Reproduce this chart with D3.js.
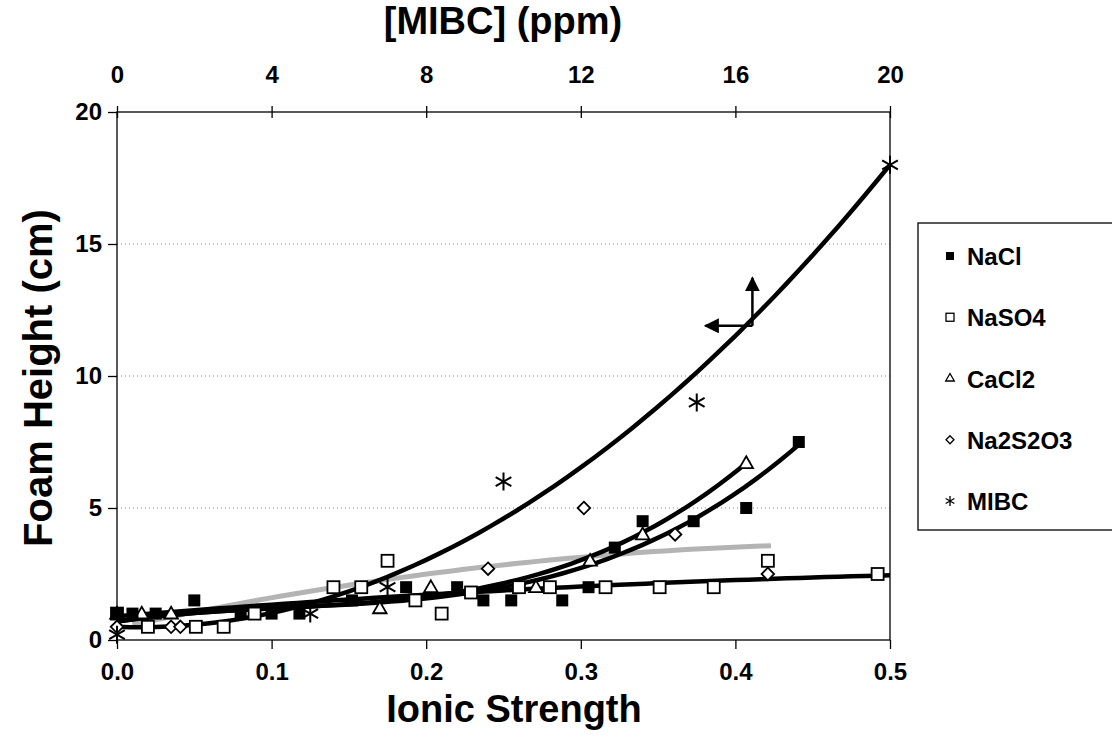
<!DOCTYPE html>
<html lang="en">
<head>
    <title>Foam Height vs Ionic Strength</title>
    <style>
        body { margin: 0; background: #fff; }
        svg text { font-family: "Liberation Sans", Arial, sans-serif; font-weight: bold; fill: #000; }
        .axis path, .axis line { stroke: #000; stroke-width: 1.3; }
        .grid line { stroke: #888; stroke-width: 1; stroke-dasharray: 1,3; }
    </style>
    <script src="https://d3js.org/d3.v7.min.js"></script>
</head>
<body>
<svg></svg>
<script>
    const width = 1112;
    const height = 753;

    // ionic strength values and foam heights (cm)
    const naclX = [0.0, 0.01, 0.025, 0.05, 0.08, 0.1, 0.118, 0.152, 0.187, 0.22, 0.237, 0.255, 0.288, 0.305, 0.322, 0.34, 0.373, 0.407, 0.441];
    const naclY = [1.0, 1.0, 1.0, 1.5, 1.0, 1.0, 1.0, 1.5, 2.0, 2.0, 1.5, 1.5, 1.5, 2.0, 3.5, 4.5, 4.5, 5.0, 7.5];

    const naso4X = [0.0, 0.02, 0.051, 0.069, 0.089, 0.14, 0.158, 0.175, 0.193, 0.21, 0.229, 0.26, 0.28, 0.316, 0.351, 0.386, 0.421, 0.492];
    const naso4Y = [1.0, 0.5, 0.5, 0.5, 1.0, 2.0, 2.0, 3.0, 1.5, 1.0, 1.8, 2.0, 2.0, 2.0, 2.0, 2.0, 3.0, 2.5];

    const cacl2X = [0.0, 0.016, 0.035, 0.17, 0.203, 0.271, 0.306, 0.34, 0.407];
    const cacl2Y = [1.0, 1.0, 1.0, 1.2, 2.0, 2.0, 3.0, 4.0, 6.7];

    const na2s2o3X = [0.0, 0.035, 0.041, 0.24, 0.302, 0.361, 0.421];
    const na2s2o3Y = [0.5, 0.5, 0.5, 2.7, 5.0, 4.0, 2.5];

    // MIBC is plotted against the top axis (ppm)
    const mibcPpm = [0, 5, 7, 10, 15, 20];
    const mibcY = [0.2, 1.0, 2.0, 6.0, 9.0, 18.0];

    // trendline polynomial coefficients (c0 + c1 x + c2 x^2 + c3 x^3) and x range
    const naclTrend = [0.7, 8.6, -50.96, 149.4];
    const naso4Trend = [0.9, 4.717, -3.235, 0];
    const cacl2Trend = [0.7, 8.67, -53.5, 168.1];
    const na2s2o3Trend = [0.45, 12.77, -12.74, 0];
    const mibcTrend = [0.5, -0.055, 0.0465, 0];
    const naclRange = [0, 0.443];
    const naso4Range = [0, 0.5];
    const cacl2Range = [0, 0.409];
    const na2s2o3Range = [0.01, 0.423];
    const mibcRange = [0, 20];

    const seriesNames = ['NaCl', 'NaSO4', 'CaCl2', 'Na2S2O3', 'MIBC'];

    const xTicks = [0, 0.1, 0.2, 0.3, 0.4, 0.5];
    const ppmTicks = [0, 4, 8, 12, 16, 20];
    const yTicks = [0, 5, 10, 15, 20];

    const svg = d3.select('svg').attr('width', width).attr('height', height);

    const plotLeft = 117, plotRight = 890, plotTop = 112, plotBottom = 640;

    const x = d3.scaleLinear().domain([0, 0.5]).range([plotLeft, plotRight]);
    const xTop = d3.scaleLinear().domain([0, 20]).range([plotLeft, plotRight]);
    const y = d3.scaleLinear().domain([0, 20]).range([plotBottom, plotTop]);

    // gridlines
    svg.append('g').attr('class', 'grid')
        .selectAll('line')
        .data(yTicks.filter(d => d > 0 && d < 20))
        .enter().append('line')
        .attr('x1', plotLeft).attr('x2', plotRight)
        .attr('y1', d => y(d)).attr('y2', d => y(d));

    const fmt1 = d3.format('.1f');

    const xAxis = svg.append('g').attr('class', 'axis')
        .attr('transform', `translate(0,${plotBottom})`)
        .call(d3.axisBottom(x).tickValues(xTicks).tickFormat(fmt1).tickSize(9).tickPadding(14));
    xAxis.selectAll('text').style('font-size', '24px');

    const topAxis = svg.append('g').attr('class', 'axis')
        .attr('transform', `translate(0,${plotTop})`)
        .call(d3.axisTop(xTop).tickValues(ppmTicks).tickSize(6).tickPadding(23));
    topAxis.selectAll('.tick line').attr('y2', 6).attr('y1', -6);
    topAxis.selectAll('text').style('font-size', '24px');

    const yAxis = svg.append('g').attr('class', 'axis')
        .attr('transform', `translate(${plotLeft},0)`)
        .call(d3.axisLeft(y).tickValues(yTicks).tickSize(9).tickPadding(6));
    yAxis.selectAll('text').style('font-size', '24px');
    svg.selectAll('.axis .domain').remove();
    svg.append('rect').attr('x', plotLeft).attr('y', plotTop)
        .attr('width', plotRight - plotLeft).attr('height', plotBottom - plotTop)
        .attr('fill', 'none').attr('stroke', '#000').attr('stroke-width', 1.3);

    // titles
    svg.append('text').attr('x', 503).attr('y', 34).attr('text-anchor', 'middle')
        .style('font-size', '38px').text('[MIBC] (ppm)');
    svg.append('text').attr('x', 514).attr('y', 722).attr('text-anchor', 'middle')
        .style('font-size', '38px').text('Ionic Strength');
    svg.append('text').attr('transform', 'translate(52,378) rotate(-90)').attr('text-anchor', 'middle')
        .style('font-size', '40px').text('Foam Height (cm)');

    // trendlines
    function poly(c, v) { return c[0] + c[1] * v + c[2] * v * v + c[3] * v * v * v; }
    function trendPoints(c, r, n) {
        return d3.range(n + 1).map(i => {
            const v = r[0] + (r[1] - r[0]) * i / n;
            return [v, poly(c, v)];
        });
    }
    const line = d3.line().x(d => x(d[0])).y(d => y(d[1]));
    const lineTop = d3.line().x(d => xTop(d[0])).y(d => y(d[1]));

    const trendGroup = svg.append('g');
    trendGroup.append('path').datum(trendPoints(na2s2o3Trend, na2s2o3Range, 60))
        .attr('d', line).attr('fill', 'none').attr('stroke', '#b4b4b4').attr('stroke-width', 5);

    // markers
    const markerGroup = svg.append('g');

    function drawSquares(xs, ys, filled) {
        markerGroup.selectAll(null).data(d3.zip(xs, ys)).enter().append('rect')
            .attr('x', d => x(d[0]) - 6).attr('y', d => y(d[1]) - 6)
            .attr('width', 12).attr('height', 12)
            .attr('fill', filled ? '#000' : '#fff')
            .attr('stroke', '#000').attr('stroke-width', filled ? 0 : 1.8);
    }
    const tri = d3.symbol().type(d3.symbolTriangle).size(80);
    const dia = d3.symbol().type(d3.symbolDiamond2).size(100);

    drawSquares(naso4X, naso4Y, false);
    markerGroup.selectAll(null).data(d3.zip(cacl2X, cacl2Y)).enter().append('path')
        .attr('d', tri).attr('transform', d => `translate(${x(d[0])},${y(d[1]) + 1})`)
        .attr('fill', '#fff').attr('stroke', '#000').attr('stroke-width', 1.8);
    markerGroup.selectAll(null).data(d3.zip(na2s2o3X, na2s2o3Y)).enter().append('path')
        .attr('d', dia).attr('transform', d => `translate(${x(d[0])},${y(d[1])})`)
        .attr('fill', '#fff').attr('stroke', '#000').attr('stroke-width', 1.8);
    drawSquares(naclX, naclY, true);

    function asterisk(s) {
        const a = s * 0.87, b = s * 0.5;
        return `M0,${-s}V${s}M${-a},${-b}L${a},${b}M${-a},${b}L${a},${-b}`;
    }
    markerGroup.selectAll(null).data(d3.zip(mibcPpm, mibcY)).enter().append('path')
        .attr('d', asterisk(9)).attr('transform', d => `translate(${xTop(d[0])},${y(d[1])})`)
        .attr('fill', 'none').attr('stroke', '#000').attr('stroke-width', 2);

    // black trendlines
    [[naso4Trend, naso4Range], [naclTrend, naclRange], [cacl2Trend, cacl2Range]].forEach(t => {
        trendGroup.append('path').datum(trendPoints(t[0], t[1], 60))
            .attr('d', line).attr('fill', 'none').attr('stroke', '#000').attr('stroke-width', 4.5);
    });
    trendGroup.append('path').datum(trendPoints(mibcTrend, mibcRange, 60))
        .attr('d', lineTop).attr('fill', 'none').attr('stroke', '#000').attr('stroke-width', 4.5);
    markerGroup.raise();

    // arrows pointing to the axes of the MIBC series
    const corner = [x(0.411), y(11.9)];
    const defs = svg.append('defs');
    defs.append('marker').attr('id', 'head').attr('viewBox', '0 0 10 10')
        .attr('refX', 9).attr('refY', 5).attr('markerWidth', 6).attr('markerHeight', 6)
        .attr('orient', 'auto-start-reverse')
        .append('path').attr('d', 'M0,0L10,5L0,10Z').attr('fill', '#000');
    svg.append('line').attr('x1', corner[0]).attr('y1', corner[1])
        .attr('x2', corner[0]).attr('y2', corner[1] - 48)
        .attr('stroke', '#000').attr('stroke-width', 2.5).attr('marker-end', 'url(#head)');
    svg.append('line').attr('x1', corner[0]).attr('y1', corner[1])
        .attr('x2', corner[0] - 47).attr('y2', corner[1])
        .attr('stroke', '#000').attr('stroke-width', 2.5).attr('marker-end', 'url(#head)');

    // legend
    const legend = svg.append('g');
    legend.append('rect').attr('x', 918).attr('y', 223).attr('width', 220).attr('height', 307)
        .attr('fill', '#fff').attr('stroke', '#000').attr('stroke-width', 1.3);
    const legendY = d3.scalePoint().domain(seriesNames).range([256, 501]);
    const lg = legend.selectAll('.item').data(seriesNames).enter().append('g')
        .attr('transform', d => `translate(950,${legendY(d)})`);
    lg.append('text').attr('x', 17).attr('y', 9).style('font-size', '24px').text(d => d);
    lg.each(function (d, i) {
        const g = d3.select(this);
        if (i === 0) g.append('rect').attr('x', -4).attr('y', -4).attr('width', 8).attr('height', 8).attr('fill', '#000');
        if (i === 1) g.append('rect').attr('x', -4).attr('y', -4).attr('width', 8).attr('height', 8)
            .attr('fill', '#fff').attr('stroke', '#000').attr('stroke-width', 1.3);
        if (i === 2) g.append('path').attr('d', d3.symbol().type(d3.symbolTriangle).size(32))
            .attr('fill', '#fff').attr('stroke', '#000').attr('stroke-width', 1.3);
        if (i === 3) g.append('path').attr('d', d3.symbol().type(d3.symbolDiamond2).size(40))
            .attr('fill', '#fff').attr('stroke', '#000').attr('stroke-width', 1.3);
        if (i === 4) g.append('path').attr('d', asterisk(5))
            .attr('fill', 'none').attr('stroke', '#000').attr('stroke-width', 1.3);
    });
</script>
</body>
</html>
